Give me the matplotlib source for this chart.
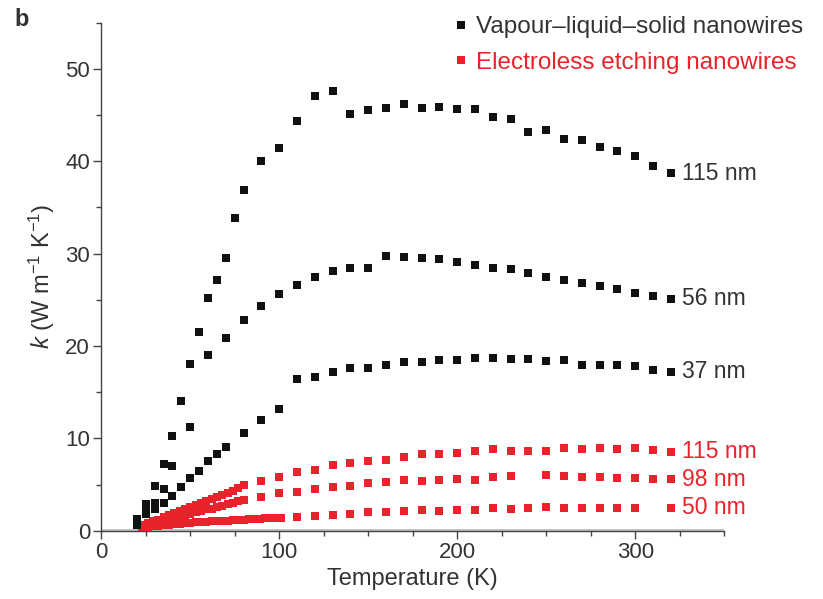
import numpy as np
import matplotlib
matplotlib.use('Agg')
from matplotlib import pyplot as plt
from matplotlib.lines import Line2D

plt.rcParams['font.family'] = ['Liberation Sans', 'DejaVu Sans']
plt.rcParams['mathtext.fontset'] = 'custom'
plt.rcParams['mathtext.rm'] = 'Liberation Sans'
plt.rcParams['mathtext.it'] = 'Liberation Sans:italic'

BLACK = '#111111'
RED = '#e8232b'
TXT = '#333333'

# vapour-liquid-solid nanowires
vls115_T = [20, 25, 30, 35, 40, 45, 50, 55, 60, 65, 70, 75, 80, 90, 100, 110, 120, 130, 140, 150,
            160, 170, 180, 190, 200, 210, 220, 230, 240, 250, 260, 270, 280, 290, 300, 310, 320]
vls115_k = [1.3, 2.9, 4.8, 7.2, 10.3, 14.0, 18.1, 21.5, 25.2, 27.2, 29.5, 33.9, 36.9, 40.0, 41.4, 44.4, 47.1, 47.6, 45.1, 45.6,
            45.8, 46.2, 45.8, 45.9, 45.7, 45.7, 44.8, 44.6, 43.2, 43.4, 42.4, 42.3, 41.6, 41.1, 40.6, 39.5, 38.7]

vls56_T = [20, 25, 30, 35, 40, 50, 60, 70, 80, 90, 100, 110, 120, 130, 140, 150, 160, 170, 180,
           190, 200, 210, 220, 230, 240, 250, 260, 270, 280, 290, 300, 310, 320]
vls56_k = [0.9, 2.4, 3.0, 4.5, 7.0, 11.2, 19.0, 20.9, 22.8, 24.3, 25.6, 26.6, 27.5, 28.1, 28.4, 28.5, 29.7, 29.6, 29.5,
           29.4, 29.1, 28.8, 28.5, 28.3, 27.9, 27.5, 27.2, 26.8, 26.5, 26.2, 25.7, 25.4, 25.1]

vls37_T = [20, 25, 30, 35, 40, 45, 50, 55, 60, 65, 70, 80, 90, 100, 110, 120, 130, 140, 150, 160, 170, 180,
           190, 200, 210, 220, 230, 240, 250, 260, 270, 280, 290, 300, 310, 320]
vls37_k = [0.6, 1.8, 2.4, 3.0, 3.8, 4.7, 5.7, 6.5, 7.5, 8.3, 9.1, 10.6, 12.0, 13.2, 16.4, 16.6, 17.2, 17.6, 17.6, 17.9, 18.3, 18.3,
           18.5, 18.5, 18.75, 18.75, 18.56, 18.56, 18.34, 18.45, 17.99, 17.99, 17.99, 17.81, 17.37, 17.19]

# electroless etching nanowires
ee115_T = [23, 26, 29, 32, 35, 38, 41, 44, 47, 50, 53, 56, 59, 62, 65, 68, 71, 74, 77, 80,
           90, 100, 110, 120, 130, 140, 150, 160, 170, 180, 190, 200, 210, 220, 230, 240, 250, 260, 270, 280, 290, 300, 310, 320]
ee115_k = [0.6, 0.8, 1.0, 1.2, 1.5, 1.7, 1.9, 2.1, 2.3, 2.6, 2.8, 3.0, 3.2, 3.4, 3.6, 3.9, 4.1, 4.3, 4.6, 4.9,
           5.37, 5.84, 6.31, 6.56, 7.1, 7.28, 7.54, 7.64, 8.0, 8.26, 8.36, 8.44, 8.62, 8.8, 8.65, 8.62, 8.62, 8.98, 8.8, 9.0, 8.8, 8.98, 8.72, 8.54]

ee98_T = [23, 26, 29, 32, 35, 38, 41, 44, 47, 50, 53, 56, 59, 62, 65, 68, 71, 74, 77, 80,
          90, 100, 110, 120, 130, 140, 150, 160, 170, 180, 190, 200, 210, 220, 230, 250, 260, 270, 280, 290, 300, 310, 320]
ee98_k = [0.5, 0.6, 0.8, 0.9, 1.1, 1.2, 1.4, 1.5, 1.7, 1.8, 2.0, 2.1, 2.3, 2.4, 2.6, 2.7, 2.9, 3.0, 3.2, 3.3,
          3.68, 4.04, 4.22, 4.47, 4.69, 4.87, 5.12, 5.3, 5.48, 5.37, 5.48, 5.55, 5.48, 5.77, 5.91, 6.02, 5.91, 5.84, 5.77, 5.66, 5.66, 5.59, 5.55]

ee50_T = [23, 26, 29, 32, 35, 38, 41, 44, 47, 50, 53, 56, 59, 62, 65, 68, 71, 74, 77, 80, 83, 86, 89, 92, 95, 98, 101,
          110, 120, 130, 140, 150, 160, 170, 180, 190, 200, 210, 220, 230, 240, 250, 260, 270, 280, 290, 300, 320]
ee50_k = [0.4, 0.45, 0.5, 0.55, 0.6, 0.65, 0.7, 0.75, 0.8, 0.85, 0.9, 0.9, 0.95, 1.0, 1.05, 1.1, 1.1, 1.15, 1.2, 1.2, 1.25, 1.3, 1.3, 1.35, 1.35, 1.4, 1.4,
          1.45, 1.6, 1.7, 1.77, 1.99, 2.06, 2.13, 2.2, 2.16, 2.24, 2.24, 2.49, 2.31, 2.42, 2.53, 2.45, 2.45, 2.45, 2.45, 2.45, 2.49]

black_sets = [(vls115_T, vls115_k, '115 nm'), (vls56_T, vls56_k, '56 nm'), (vls37_T, vls37_k, '37 nm')]
red_sets = [(ee115_T, ee115_k, '115 nm'), (ee98_T, ee98_k, '98 nm'), (ee50_T, ee50_k, '50 nm')]

fig = plt.figure(figsize=(8.23, 5.99), dpi=100)
ax = fig.add_axes([0.123, 0.114, 0.757, 0.848])

for T, k, lab in red_sets:
    ax.plot(T, k, 's', color=RED, ms=6.4, mew=0, clip_on=False, zorder=3)
    ax.text(326.5, k[-1], lab, color=RED, fontsize=16.5, va='center', ha='left')
for T, k, lab in black_sets:
    ax.plot(T, k, 's', color=BLACK, ms=6.3, mew=0, clip_on=False, zorder=4)
    ax.text(326.5, k[-1], lab, color=TXT, fontsize=16.5, va='center', ha='left')

ax.axhline(0, color='#c4c4c4', lw=3.5, zorder=1)

ax.set_xlim(0, 350)
ax.set_ylim(0, 55)
ax.set_xticks([0, 100, 200, 300])
ax.set_xticks(np.arange(0, 351, 25), minor=True)
ax.set_yticks([0, 10, 20, 30, 40, 50])
ax.set_yticks(np.arange(0, 56, 5), minor=True)
ax.spines['top'].set_visible(False)
ax.spines['right'].set_visible(False)
for s in ['left', 'bottom']:
    ax.spines[s].set_color('#444444')
    ax.spines[s].set_linewidth(1.0)
ax.tick_params(which='major', length=6, width=1, color='#444444', labelsize=16, labelcolor=TXT, pad=2)
ax.tick_params(which='minor', length=3.5, width=1, color='#444444')

ax.set_xlabel('Temperature (K)', fontsize=17, color=TXT, labelpad=4)
ax.set_ylabel('$k$ (W m$^{-1}$ K$^{-1}$)', fontsize=17, color=TXT, labelpad=6)

handles = [Line2D([], [], marker='s', ls='', color=BLACK, ms=5.5, mew=0),
           Line2D([], [], marker='s', ls='', color=RED, ms=5.5, mew=0)]
leg = fig.legend(handles, ['Vapour\u2013liquid\u2013solid nanowires', 'Electroless etching nanowires'],
                 loc='upper right', bbox_to_anchor=(0.992, 0.995), frameon=False, fontsize=17.5,
                 handlelength=0.6, handletextpad=0.3, labelspacing=0.55, borderpad=0.05)
leg.get_texts()[0].set_color(TXT)
leg.get_texts()[1].set_color(RED)

fig.text(0.018, 0.967, 'b', fontsize=17, fontweight='bold', color=TXT, ha='left', va='center')

fig.savefig('out.png', dpi=100)
